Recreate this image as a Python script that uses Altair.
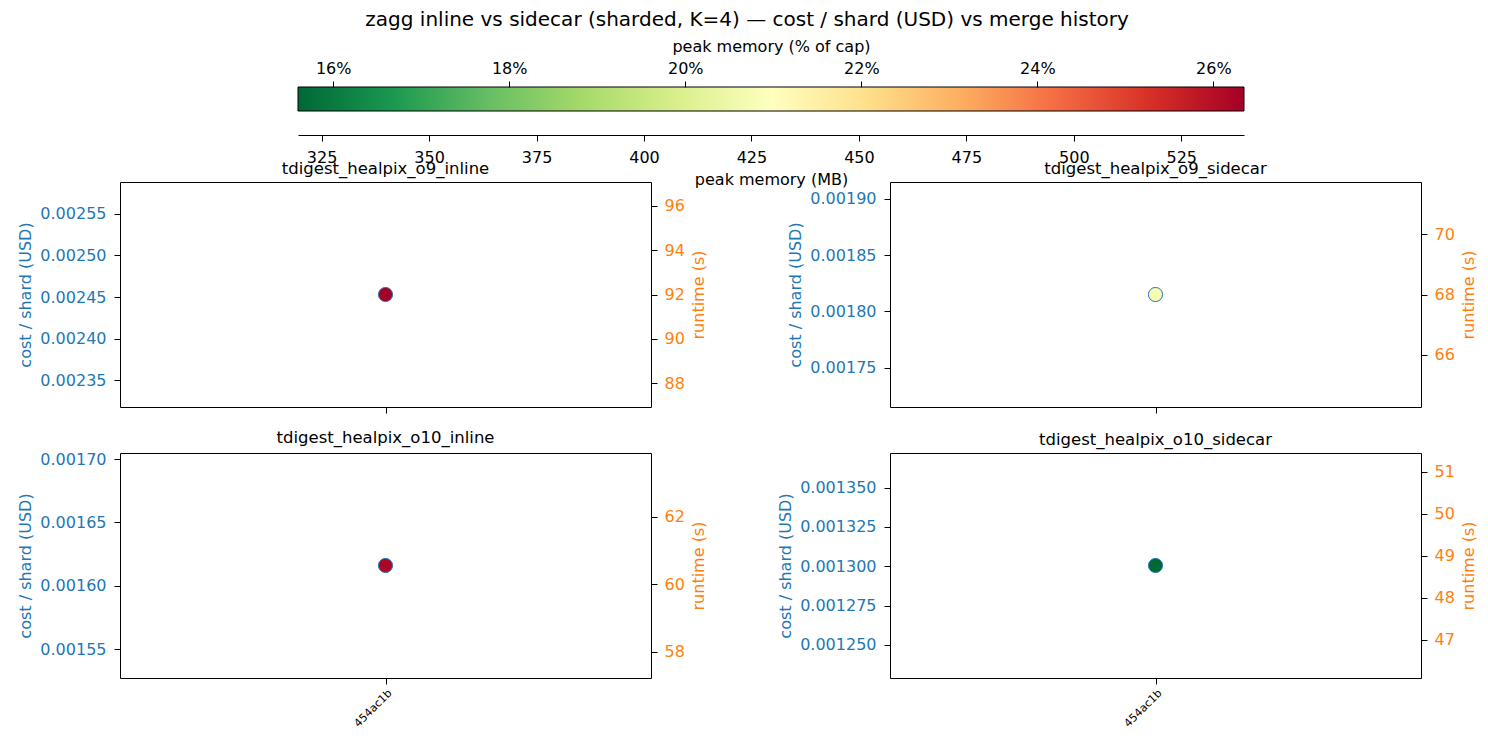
import numpy as np
import pandas as pd
import altair as alt

# --- benchmark results: one merge commit per configuration ---
panel_names = [
    "tdigest_healpix_o9_inline",
    "tdigest_healpix_o9_sidecar",
    "tdigest_healpix_o10_inline",
    "tdigest_healpix_o10_sidecar",
]
commits = ["454ac1b"]
cost_per_shard_usd = [0.002453, 0.001815, 0.001616, 0.0013005]
runtime_s = [92.0, 68.0, 60.55, 48.77]
peak_memory_mb = [539.6, 424.0, 537.0, 319.5]

# memory cap used for the "% of cap" colorbar axis
memory_cap_mb = 2048

# tick spacing / label format for each panel's two y axes
cost_tick_step = [0.00005, 0.00005, 0.00005, 0.000025]
cost_tick_format = [".5f", ".5f", ".5f", ".6f"]
runtime_tick_step = [2, 2, 2, 1]

# colorbar ticks
memory_ticks_mb = [325, 350, 375, 400, 425, 450, 475, 500, 525]
memory_ticks_pct = [16, 18, 20, 22, 24, 26]

# RdYlGn reversed: green = low peak memory, red = high peak memory
rdylgn_r = ["#006837", "#1a9850", "#66bd63", "#a6d96a", "#d9ef8b", "#ffffbf",
            "#fee08b", "#fdae61", "#f46d43", "#d73027", "#a50026"]

BLUE = "#1f77b4"
ORANGE = "#ff7f0e"
FONT = "DejaVu Sans"

# layout (pixels)
PANEL_W, PANEL_H = 531, 225
COL_GAP, ROW_GAP = 239, 46
CB_X0, CB_X1 = 178, 1124   # colorbar extent measured from the left panel edge
CB_H = 24                  # height of the colour strip
CB_BLOCK_H = 49            # height reserved for the colorbar row
RIGHT_COL_X = PANEL_W + COL_GAP


def single_value_limits(v):
    # a one-point axis: expand by +/-5 % of the value, then add 5 % margins
    lo, hi = v * 0.95, v * 1.05
    pad = 0.05 * (hi - lo)
    return [lo - pad, hi + pad]


def ticks_within(lims, step):
    start = np.ceil(lims[0] / step - 1e-9) * step
    vals = np.arange(start, lims[1] + 1e-12, step)
    return [round(float(t), 9) for t in vals]


vmin, vmax = min(peak_memory_mb), max(peak_memory_mb)
color_stops = np.linspace(vmin, vmax, len(rdylgn_r)).tolist()
color_scale = alt.Scale(domain=color_stops, range=rdylgn_r, interpolate="rgb")


def panel(i, bottom_row):
    df = pd.DataFrame({
        "commit": commits,
        "cost": [cost_per_shard_usd[i]],
        "runtime": [runtime_s[i]],
        "memory": [peak_memory_mb[i]],
    })
    cost_lims = single_value_limits(cost_per_shard_usd[i])
    rt_lims = single_value_limits(runtime_s[i])
    x_scale = alt.Scale(type="point", padding=0.5)

    # cost layer: bottom + left spines
    cost = alt.Chart(df).mark_circle(
        size=200, opacity=1, stroke=BLUE, strokeWidth=1
    ).encode(
        x=alt.X("commit:N", scale=x_scale, axis=alt.Axis(
            orient="bottom", title=None, labels=bottom_row, labelAngle=-45,
            labelAlign="right", labelBaseline="top", labelFontSize=11,
            labelPadding=3)),
        y=alt.Y("cost:Q", scale=alt.Scale(domain=cost_lims, nice=False, zero=False),
                axis=alt.Axis(orient="left", title="cost / shard (USD)",
                              values=ticks_within(cost_lims, cost_tick_step[i]),
                              format=cost_tick_format[i], labelColor=BLUE,
                              titleColor=BLUE, labelPadding=8)),
        fill=alt.Fill("memory:Q", scale=color_scale, legend=None),
    )

    # runtime layer: top + right spines
    runtime = alt.Chart(df).mark_line(color=ORANGE, strokeDash=[5, 3]).encode(
        x=alt.X("commit:N", scale=x_scale,
                axis=alt.Axis(orient="top", title=None, labels=False, ticks=False)),
        y=alt.Y("runtime:Q", scale=alt.Scale(domain=rt_lims, nice=False, zero=False),
                axis=alt.Axis(orient="right", title="runtime (s)",
                              values=ticks_within(rt_lims, runtime_tick_step[i]),
                              format="d", labelColor=ORANGE, titleColor=ORANGE,
                              labelPadding=7, titleAngle=270, titleBaseline="top")),
    )

    return alt.layer(cost, runtime).resolve_scale(
        x="independent", y="independent"
    ).properties(
        width=PANEL_W, height=PANEL_H,
        title=alt.TitleParams(panel_names[i], fontSize=16.5, fontWeight="normal",
                              font=FONT, anchor="middle", offset=5),
    )


# --- colorbar: peak memory in MB (bottom) and as % of the cap (top) ---
pct_lo, pct_hi = vmin / memory_cap_mb * 100, vmax / memory_cap_mb * 100
cb_df = pd.DataFrame({"mb_lo": [vmin], "mb_hi": [vmax],
                      "pct_lo": [pct_lo], "pct_hi": [pct_hi]})
gradient = alt.LinearGradient(
    gradient="linear",
    stops=[alt.GradientStop(color=c, offset=k / (len(rdylgn_r) - 1))
           for k, c in enumerate(rdylgn_r)],
    x1=0, x2=1, y1=0, y2=0,
)

# colour strip with the MB axis underneath (left grid cell)
cb_mb = alt.Chart(cb_df).mark_rect(fill=gradient).encode(
    x=alt.X("mb_lo:Q",
            scale=alt.Scale(domain=[vmin, vmax], range=[CB_X0, CB_X1], nice=False, zero=False),
            axis=alt.Axis(orient="bottom", offset=-1, values=memory_ticks_mb,
                          labelPadding=8.5, title="peak memory (MB)")),
    x2="mb_hi:Q",
    y=alt.value(0),
    y2=alt.value(CB_H),
).properties(width=PANEL_W, height=CB_BLOCK_H)

# outline with the "% of cap" axis on top (right grid cell, shifted back over the strip)
shift = CB_X0 - RIGHT_COL_X
cb_pct = alt.Chart(cb_df).mark_rect(
    fill="transparent", stroke="black", strokeWidth=1, xOffset=shift, x2Offset=shift
).encode(
    x=alt.X("pct_lo:Q",
            scale=alt.Scale(domain=[pct_lo, pct_hi], range=[0, CB_X1 - CB_X0],
                            nice=False, zero=False),
            axis=alt.Axis(orient="top", position=shift, values=memory_ticks_pct,
                          labelExpr="datum.value + '%'", domain=False,
                          title="peak memory (% of cap)")),
    x2="pct_hi:Q",
    y=alt.value(0),
    y2=alt.value(CB_H),
).properties(width=PANEL_W, height=CB_BLOCK_H)

chart = alt.concat(
    cb_mb, cb_pct, *[panel(i, i >= 2) for i in range(4)],
    columns=2,
    spacing=alt.RowColnumber(row=ROW_GAP, column=COL_GAP),
    bounds="flush",
).properties(
    title=alt.TitleParams(
        "zagg inline vs sidecar (sharded, K=4) — cost / shard (USD) vs merge history",
        fontSize=20, fontWeight="normal", font=FONT, anchor="middle", offset=8),
    padding={"left": 17, "top": 10, "right": 5, "bottom": 5},
).configure(font=FONT).configure_view(
    strokeWidth=0
).configure_axis(
    labelFont=FONT, labelFontSize=16, labelColor="black",
    titleFont=FONT, titleFontSize=16, titleFontWeight="normal", titleColor="black",
    tickColor="black", tickSize=6, tickWidth=1, labelPadding=5, titlePadding=6,
    domain=True, domainColor="black", domainWidth=1, grid=False,
)

chart.save("out.html", embed_options={"renderer": "svg", "actions": False})
